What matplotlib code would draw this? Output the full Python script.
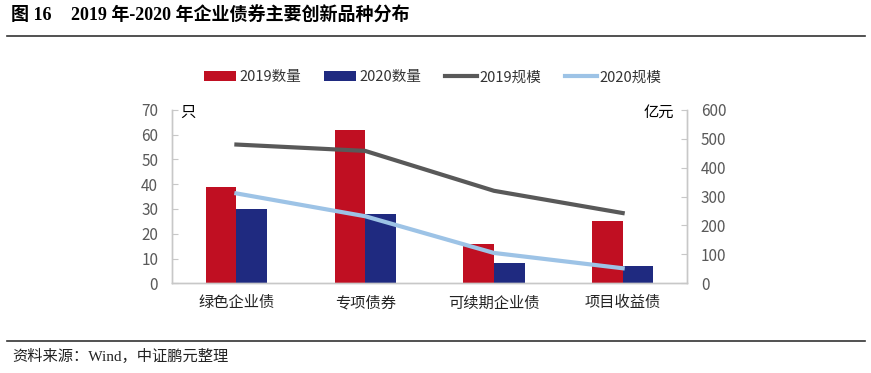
import numpy as np
import matplotlib
matplotlib.use('Agg')
import matplotlib.pyplot as plt
from matplotlib.lines import Line2D

plt.rcParams['font.family'] = ['Noto Sans CJK SC', 'DejaVu Sans']

categories = ['绿色企业债', '专项债券', '可续期企业债', '项目收益债']
count_2019 = [39, 62, 16, 25]
count_2020 = [30, 28, 8, 7]
scale_2019 = [480, 458, 320, 243]
scale_2020 = [311, 232, 105, 52]

c_red = '#C00F22'
c_navy = '#1F2A80'
c_gray = '#595959'
c_lblue = '#9DC3E6'
tick_c = '#595959'

fig = plt.figure(figsize=(8.71, 3.73), dpi=100)

# 标题和分隔线
fig.text(0.013, 0.958, '图 16', fontsize=13, fontweight='bold', va='center',
         family=['Liberation Serif', 'Noto Sans CJK SC'])
fig.text(0.0815, 0.958, '2019 年-2020 年企业债券主要创新品种分布', fontsize=13,
         fontweight='bold', va='center', family=['Liberation Serif', 'Noto Sans CJK SC'])
fig.add_artist(Line2D([0.008, 0.993], [0.903, 0.903], color='#333333', lw=1.2))
fig.add_artist(Line2D([0.008, 0.993], [0.086, 0.086], color='#333333', lw=1.2))
fig.text(0.014, 0.045, '资料来源：Wind，中证鹏元整理', fontsize=11, va='center',
         family=['Liberation Serif', 'Noto Sans CJK SC'], color='#222222')

ax = fig.add_axes([0.1975, 0.2405, 0.5913, 0.4650])
ax2 = ax.twinx()

x = np.arange(len(categories))
w = 0.238
b1 = ax.bar(x - w / 2, count_2019, w, color=c_red, label='2019数量')
b2 = ax.bar(x + w / 2, count_2020, w, color=c_navy, label='2020数量')
l1, = ax2.plot(x, scale_2019, color=c_gray, lw=3, label='2019规模')
l2, = ax2.plot(x, scale_2020, color=c_lblue, lw=3, label='2020规模')

ax.set_xlim(-0.5, 3.5)
ax.set_ylim(0, 70)
ax.set_yticks(range(0, 71, 10))
ax2.set_ylim(0, 600)
ax2.set_yticks(range(0, 601, 100))
ax.set_xticks(x)
ax.set_xticklabels(categories, fontsize=11, color='#222222')

for a in (ax, ax2):
    a.spines['top'].set_visible(False)
    for s in ('left', 'right', 'bottom'):
        a.spines[s].set_color('#C8C8C8')
        a.spines[s].set_linewidth(1.0)
    a.tick_params(axis='y', labelsize=11, labelcolor=tick_c, color='#C8C8C8',
                  length=4, direction='in', pad=10)
ax.tick_params(axis='x', length=0, pad=8)

ax.text(0.015, 0.985, '只', transform=ax.transAxes, fontsize=11, va='center', ha='left')
ax.text(0.975, 0.985, '亿元', transform=ax.transAxes, fontsize=11, va='center', ha='right')

fig.legend([b1, b2, l1, l2], ['2019数量', '2020数量', '2019规模', '2020规模'],
           loc='center', bbox_to_anchor=(0.497, 0.793), ncol=4, frameon=False,
           fontsize=10.5, handlelength=2.2, handleheight=0.6, handletextpad=0.2,
           columnspacing=1.6, labelcolor='#333333')

fig.savefig('out.png', dpi=100)
